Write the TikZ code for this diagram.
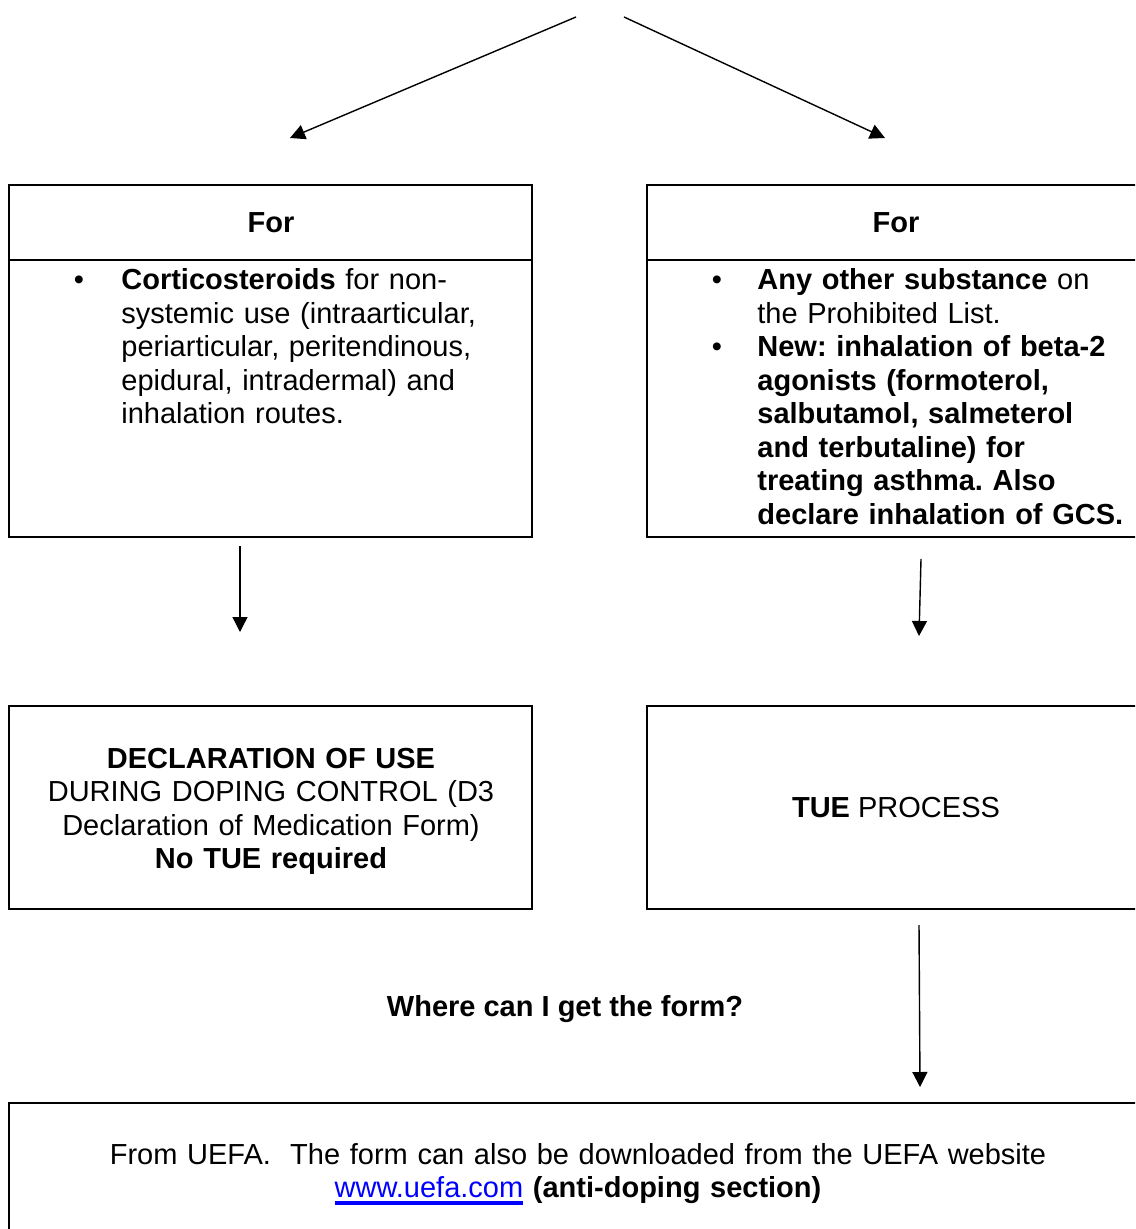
\documentclass[tikz,border=0pt]{standalone}
\usepackage{fontspec}
\setmainfont{Liberation Sans}
\usetikzlibrary{arrows.meta}
\definecolor{linkblue}{RGB}{0,0,255}
\newcommand{\linkline}[1]{\setbox0\hbox{#1}\rlap{\rule[-3.6pt]{\wd0}{1.7pt}}\box0}
\frenchspacing

\tikzset{
	box/.style={draw, line width=1.1pt},
	flow/.style={-{Triangle[length=7.5pt,width=7.5pt]}, line width=0.7pt},
	body/.style={inner sep=0pt, font=\fontsize{14.5}{16.75}\selectfont},
	para/.style={body, text width=#1, align=left, anchor=base west},
	mid/.style={body, text width=#1, align=center, anchor=base},
}

\begin{document}
\begin{tikzpicture}[x=0.5pt,y=-0.5pt]
	\useasboundingbox (0,0) rectangle (1135,1229);
	\clip (0,0) rectangle (1135,1229);
	% boxes
	\draw[box] (9,185) rectangle (532,537);
	\draw[box] (9,260) -- (532,260);
	\draw[box] (647,185) rectangle (1146,537);
	\draw[box] (647,260) -- (1146,260);
	\draw[box] (9,706) rectangle (532,909);
	\draw[box] (647,706) rectangle (1146,909);
	\draw[box] (9,1103) rectangle (1146,1262);
	% free ends of the arrows
	\coordinate (splitL) at (576,17);
	\coordinate (splitR) at (624,17);
	\coordinate (toforL) at (290,138);
	\coordinate (toforR) at (885,138);
	\coordinate (outL) at (240,546);
	\coordinate (inL) at (240,632);
	\coordinate (outR) at (921,559);
	\coordinate (inR) at (919,636);
	\coordinate (outTue) at (919,925);
	\coordinate (inForm) at (920,1087);
	\draw[flow] (splitL) -- (toforL);
	\draw[flow] (splitR) -- (toforR);
	\draw[flow] (outL) -- (inL);
	\draw[flow] (outR) -- (inR);
	\draw[flow] (outTue) -- (inForm);
	% headers
	\node[mid=200pt] (forL) at (271,233) {\textbf{For}};
	\node[mid=200pt] (forR) at (896,233) {\textbf{For}};
	% bullet lists
	\node[body, anchor=base] (dotL) at (79,290) {\textbullet};
	\node[para=215pt] (corti) at (121,290) {\textbf{Corticosteroids} for non-\\systemic use (intraarticular,\\periarticular, peritendinous,\\epidural, intradermal) and\\inhalation routes.};
	\node[body, anchor=base] (dotR1) at (717,290) {\textbullet};
	\node[body, anchor=base] (dotR2) at (717,357) {\textbullet};
	\node[para=200pt] (other) at (757,290) {\textbf{Any other substance} on\\the Prohibited List.\\\textbf{New: inhalation of beta-2}\\\textbf{agonists (formoterol,}\\\textbf{salbutamol, salmeterol}\\\textbf{and terbutaline) for}\\\textbf{treating asthma. Also}\\\textbf{declare inhalation of GCS.}};
	% outcomes
	\node[mid=250pt] (declare) at (271,768) {\textbf{DECLARATION OF USE}\\DURING DOPING CONTROL (D3\\Declaration of Medication Form)\\\textbf{No TUE required}};
	\node[body, anchor=base] (tue) at (896,817) {\textbf{TUE} PROCESS};
	\node[body, anchor=base] (where) at (565,1016) {\textbf{Where can I get the form?}};
	\node[mid=540pt] (uefa) at (578,1164) {From UEFA.\ \ The form can also be downloaded from the UEFA website\\\textcolor{linkblue}{\linkline{www.uefa.com}} \textbf{(anti-doping section)}};
\end{tikzpicture}
\end{document}
